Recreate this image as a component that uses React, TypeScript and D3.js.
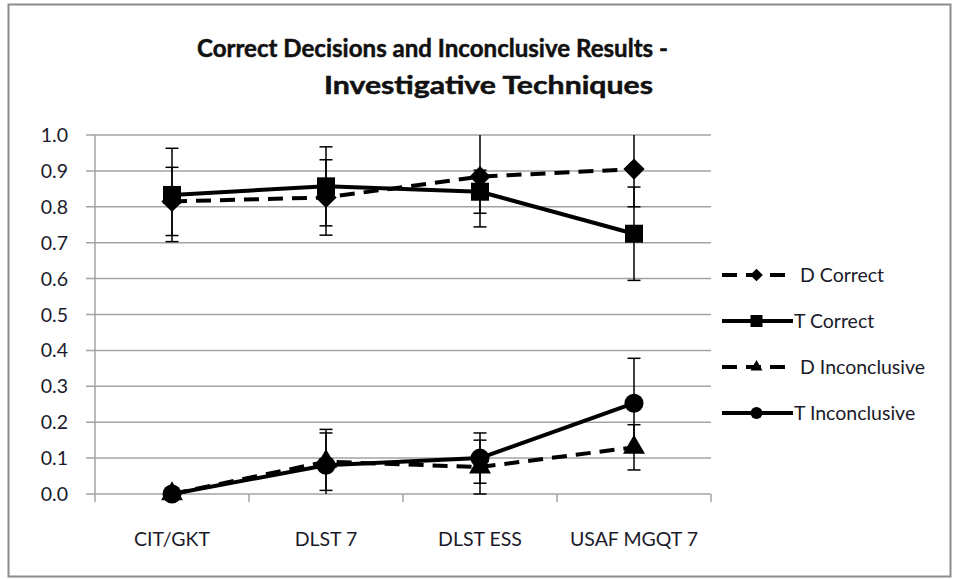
import React from "react";
import * as d3 from "d3";

const categories = ["CIT/GKT", "DLST 7", "DLST ESS", "USAF MGQT 7"];
const dCorrect = [0.815, 0.826, 0.884, 0.905];
const dCorrectErr = [0.095, 0.105, 0.14, 0.105];
const tCorrect = [0.833, 0.857, 0.842, 0.725];
const tCorrectErr = [0.13, 0.11, 0.06, 0.13];
const dIncon = [0.0, 0.09, 0.075, 0.13];
const dInconErr = [0.0, 0.08, 0.075, 0.063];
const tIncon = [0.0, 0.08, 0.1, 0.253];
const tInconErr = [0.0, 0.1, 0.07, 0.125];
const yTicks = [0, 0.1, 0.2, 0.3, 0.4, 0.5, 0.6, 0.7, 0.8, 0.9, 1.0];
const titleLines = ["Correct Decisions and Inconclusive Results -", "Investigative Techniques"];

type Series = {
  name: string;
  values: number[];
  errs: number[];
  dashed: boolean;
  marker: "diamond" | "square" | "triangle" | "circle";
};

const series: Series[] = [
  { name: "D Correct", values: dCorrect, errs: dCorrectErr, dashed: true, marker: "diamond" },
  { name: "T Correct", values: tCorrect, errs: tCorrectErr, dashed: false, marker: "square" },
  { name: "D Inconclusive", values: dIncon, errs: dInconErr, dashed: true, marker: "triangle" },
  { name: "T Inconclusive", values: tIncon, errs: tInconErr, dashed: false, marker: "circle" },
];

const W = 957;
const H = 579;
const plot = { left: 95, right: 711, top: 135, bottom: 494 };
const FONT = "Lato, 'Open Sans', sans-serif";
const TEXT = "#1a1a2a";

function markerPath(kind: string, big: boolean): { d: string; rotate: number } {
  if (kind === "diamond") {
    const s = big ? 15 : 9;
    return { d: d3.symbol().type(d3.symbolSquare).size(s * s)()!, rotate: 45 };
  }
  if (kind === "square") {
    const s = big ? 18 : 12;
    return { d: d3.symbol().type(d3.symbolSquare).size(s * s)()!, rotate: 0 };
  }
  if (kind === "triangle") {
    const side = big ? 22 : 12;
    return { d: d3.symbol().type(d3.symbolTriangle).size((Math.sqrt(3) / 4) * side * side)()!, rotate: 0 };
  }
  const r = big ? 9.5 : 6;
  return { d: d3.symbol().type(d3.symbolCircle).size(Math.PI * r * r)()!, rotate: 0 };
}

export default function App() {
  const x = d3.scaleBand<string>().domain(categories).range([plot.left, plot.right]);
  const y = d3.scaleLinear().domain([0, 1]).range([plot.bottom, plot.top]);
  const cx = (c: string) => (x(c) as number) + x.bandwidth() / 2;
  const line = d3
    .line<number>()
    .x((_, i) => cx(categories[i]))
    .y((v) => y(v));

  const legendY = [275, 321, 367, 413];

  return (
    <svg
      width={W}
      height={H}
      style={{ position: "absolute", left: 0, top: 0, background: "#fff" }}
      fontFamily={FONT}
    >
      <rect x={8.5} y={4.5} width={942} height={572} fill="#fff" stroke="#8c8c8c" strokeWidth={2} />

      {/* title */}
      <text x={432.5} y={57} textAnchor="middle" fontSize={25} fontWeight={700} fill="#111" stroke="#111" strokeWidth={0.5} textLength={471} lengthAdjust="spacingAndGlyphs">
        {titleLines[0]}
      </text>
      <text x={488.5} y={94} textAnchor="middle" fontSize={25} fontWeight={700} fill="#111" stroke="#111" strokeWidth={0.5} textLength={329} lengthAdjust="spacingAndGlyphs">
        {titleLines[1]}
      </text>

      {/* gridlines */}
      {yTicks.map((t) => (
        <line key={"g" + t} x1={plot.left - 9} x2={plot.right} y1={y(t)} y2={y(t)} stroke="#a3a3a3" strokeWidth={1.5} />
      ))}
      {/* y axis */}
      <line x1={plot.left} x2={plot.left} y1={plot.top} y2={plot.bottom} stroke="#a3a3a3" strokeWidth={1.5} />
      {yTicks.map((t) => (
        <text key={"yl" + t} x={68} y={y(t)} dy="0.36em" textAnchor="end" fontSize={19.5} fill={TEXT}>
          {d3.format(".1f")(t)}
        </text>
      ))}
      {/* x axis ticks */}
      {[...categories.map((c) => x(c) as number), plot.right].map((v, i) => (
        <line key={"xt" + i} x1={v} x2={v} y1={plot.bottom} y2={plot.bottom + 8} stroke="#a3a3a3" strokeWidth={1.5} />
      ))}
      {categories.map((c) => (
        <text key={"xl" + c} x={cx(c)} y={546} textAnchor="middle" fontSize={19.5} fill={TEXT}>
          {c}
        </text>
      ))}

      {/* series */}
      {series.map((s) => (
        <g key={s.name}>
          <path
            d={line(s.values) || ""}
            fill="none"
            stroke="#000"
            strokeWidth={4}
            strokeDasharray={s.dashed ? "15,9" : undefined}
            strokeLinejoin="round"
          />
          {s.values.map((v, i) => {
            const m = markerPath(s.marker, true);
            return (
              <path
                key={i}
                d={m.d}
                transform={`translate(${cx(categories[i])},${y(v)}) rotate(${m.rotate})`}
                fill="#000"
              />
            );
          })}
          {s.values.map((v, i) => {
            const e = s.errs[i];
            if (!e) return null;
            const hi = v + e;
            const lo = v - e;
            const px = cx(categories[i]);
            const yHi = y(Math.min(hi, 1));
            const yLo = y(Math.max(lo, 0));
            return (
              <g key={"e" + i} stroke="#000" strokeWidth={1.5}>
                <line x1={px} x2={px} y1={yHi} y2={yLo} />
                {hi <= 1 && <line x1={px - 6.5} x2={px + 6.5} y1={yHi} y2={yHi} />}
                {lo >= 0 && <line x1={px - 6.5} x2={px + 6.5} y1={yLo} y2={yLo} />}
              </g>
            );
          })}
        </g>
      ))}

      {/* legend */}
      {series.map((s, i) => {
        const ly = legendY[i];
        const m = markerPath(s.marker, false);
        return (
          <g key={"lg" + s.name}>
            <line
              x1={722}
              x2={s.dashed ? 790 : 793}
              y1={ly}
              y2={ly}
              stroke="#000"
              strokeWidth={4}
              strokeDasharray={s.dashed ? "15,9" : undefined}
            />
            <path d={m.d} transform={`translate(756.5,${ly}) rotate(${m.rotate})`} fill="#000" />
            <text x={s.dashed ? 800 : 794} y={ly} dy="0.36em" fontSize={19.5} fill={TEXT}>
              {s.name}
            </text>
          </g>
        );
      })}
    </svg>
  );
}
